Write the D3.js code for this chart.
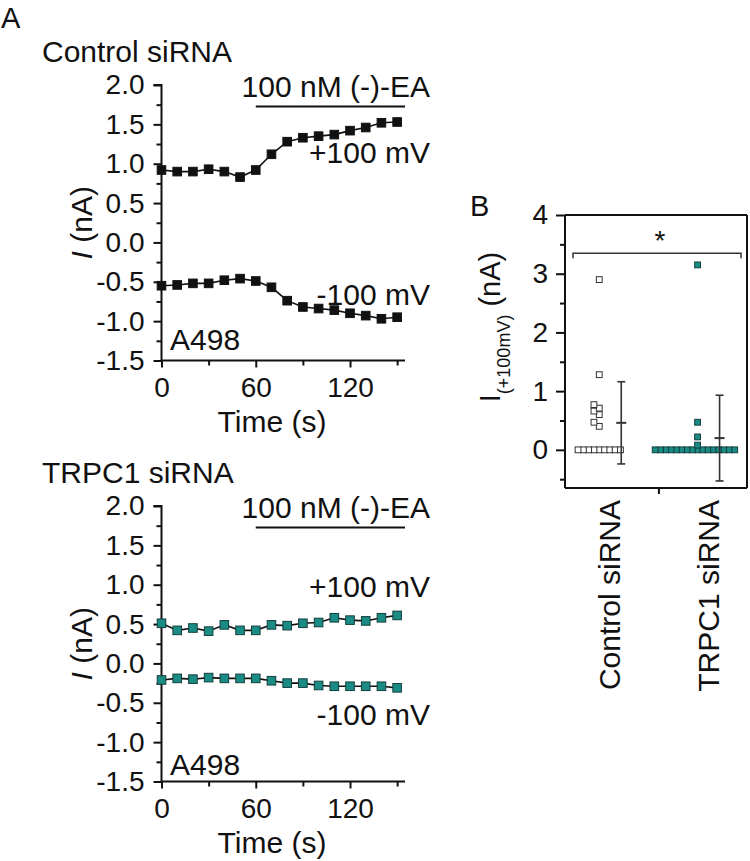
<!DOCTYPE html>
<html><head><meta charset="utf-8">
<script src="https://cdn.jsdelivr.net/npm/d3@7"></script>
<style>
body{margin:0;background:#fff;}
svg{font-family:"Liberation Sans",Arial,sans-serif;}
</style></head><body>
<svg id="c" width="750" height="861"></svg>
<script>
// ---------- data ----------
const time = [0,10,20,30,40,50,60,70,80,90,100,110,120,130,140,150];
const ctrlPlus  = [0.92,0.90,0.90,0.93,0.90,0.83,0.92,1.12,1.28,1.33,1.35,1.37,1.42,1.46,1.52,1.53];
const ctrlMinus = [-0.55,-0.54,-0.52,-0.52,-0.48,-0.46,-0.49,-0.57,-0.74,-0.82,-0.84,-0.86,-0.90,-0.93,-0.97,-0.95];
const trpcPlus  = [0.51,0.42,0.45,0.41,0.49,0.42,0.42,0.49,0.48,0.51,0.52,0.58,0.55,0.54,0.58,0.61];
const trpcMinus = [-0.21,-0.19,-0.20,-0.18,-0.19,-0.19,-0.19,-0.22,-0.25,-0.25,-0.28,-0.29,-0.29,-0.29,-0.29,-0.31];
const yTicksA = [-1.5,-1.0,-0.5,0.0,0.5,1.0,1.5,2.0];
const yMinorA = [-1.25,-0.75,-0.25,0.25,0.75,1.25,1.75];
const xTicksA = [0,60,120];
const xMinorA = [30,90,150];
const drugStart = 60;
const panelTitles = ["Control siRNA","TRPC1 siRNA"];

const groupsB = ["Control siRNA","TRPC1 siRNA"];
const ctrlB = [0,0,0,0,0,0,0,0,0,0.40,0.47,0.60,0.66,0.71,0.77,1.28,2.90];
const trpcB = [0,0,0,0,0,0,0,0,0,0,0,0,0,0,0,0,0.08,0.22,0.47,3.15];
const meanB = [0.46,0.20];
const sdB   = [0.70,0.73];
const yTicksB = [0,1,2,3,4];
const yMinorB = [-0.5,0.5,1.5,2.5,3.5];

// ---------- drawing ----------
const svg = d3.select("#c");
const black = "#111";
const teal = "#1b8b86", tealEdge = "#123f3c";

function styleAxis(g, fs){
  g.selectAll("path,line").attr("stroke", black).attr("stroke-width", 2);
  g.selectAll("text").attr("font-size", fs).attr("fill", black).attr("font-family", '"Liberation Sans",Arial,sans-serif');
}

function panelA(dy, title, plus, minus, fill, edge, labels){
  const x = d3.scaleLinear().domain([0,155]).range([161.5,405]);
  const y = d3.scaleLinear().domain([-1.5,2.0]).range([360.5+dy,85+dy]);
  const g = svg.append("g");
  const gmy = g.append("g").attr("transform",`translate(${x(0)},0)`)
    .call(d3.axisLeft(y).tickValues(yMinorA).tickSize(5).tickFormat(""));
  gmy.select(".domain").remove(); styleAxis(gmy, 28);
  const gmx = g.append("g").attr("transform",`translate(0,${y(-1.5)})`)
    .call(d3.axisBottom(x).tickValues(xMinorA).tickSize(5).tickFormat(""));
  gmx.select(".domain").remove(); styleAxis(gmx, 28);
  const gy = g.append("g").attr("transform",`translate(${x(0)},0)`)
    .call(d3.axisLeft(y).tickValues(yTicksA).tickSize(8).tickPadding(9).tickFormat(d3.format(".1f")));
  gy.select(".domain").attr("d", `M-8,${y(2)}H0V${y(-1.5)}`);
  styleAxis(gy, 28);
  gy.selectAll("text").text(d => d3.format(".1f")(d).replace("−","-"));
  const gx = g.append("g").attr("transform",`translate(0,${y(-1.5)})`)
    .call(d3.axisBottom(x).tickValues(xTicksA).tickSize(7).tickPadding(10).tickFormat(d3.format("d")));
  gx.select(".domain").attr("d", `M${x(0)},0H${x(155)}`);
  styleAxis(gx, 28);

  g.append("text").attr("x",42).attr("y",62+dy).attr("font-size",30).attr("fill",black).text(title);
  const yl = g.append("text").attr("transform",`translate(92,${(y(2)+y(-1.5))/2}) rotate(-90)`)
    .attr("text-anchor","middle").attr("font-size",30).attr("fill",black);
  yl.append("tspan").attr("font-style","italic").text("I");
  yl.append("tspan").text(" (nA)");
  g.append("text").attr("x",272).attr("y",y(-1.5)+71).attr("text-anchor","middle")
    .attr("font-size",30).attr("fill",black).text("Time (s)");

  g.append("text").attr("x",430).attr("y",97+dy).attr("text-anchor","end")
    .attr("font-size",30).attr("fill",black).text("100 nM (-)-EA");
  g.append("line").attr("x1",x(drugStart)).attr("x2",x(155)).attr("y1",106.5+dy).attr("y2",106.5+dy)
    .attr("stroke",black).attr("stroke-width",2);

  const line = d3.line().x((d,i)=>x(time[i])).y(d=>y(d));
  [plus, minus].forEach(series=>{
    g.append("path").datum(series).attr("d",line).attr("fill","none").attr("stroke",black).attr("stroke-width",1.6);
    g.selectAll(null).data(series).enter().append("rect")
      .attr("x",(d,i)=>x(time[i])-4.3).attr("y",d=>y(d)-4.3).attr("width",8.6).attr("height",8.6)
      .attr("fill",fill).attr("stroke",edge).attr("stroke-width",1);
  });
  g.append("text").attr("x",430).attr("y",labels[0]+dy).attr("text-anchor","end").attr("font-size",30).attr("fill",black).text("+100 mV");
  g.append("text").attr("x",430).attr("y",labels[1]+dy).attr("text-anchor","end").attr("font-size",30).attr("fill",black).text("-100 mV");
  g.append("text").attr("x",170).attr("y",labels[2]+dy).attr("font-size",30).attr("fill",black).text("A498");
}

svg.append("text").attr("x",1).attr("y",28).attr("font-size",29).attr("fill",black).text("A");
panelA(0, panelTitles[0], ctrlPlus, ctrlMinus, black, black, [163,305,350]);
panelA(421, panelTitles[1], trpcPlus, trpcMinus, teal, tealEdge, [176,304,354]);

// ---------- panel B ----------
const xB = d3.scaleLinear().domain([0.55,2.35]).range([565,742]);
const yB = d3.scaleLinear().domain([-0.65,4]).range([488,215]);
const frameRight = 747;
const gB = svg.append("g");
svg.append("text").attr("x",470).attr("y",216).attr("font-size",29).attr("fill",black).text("B");

const gmyB = gB.append("g").attr("transform",`translate(${xB.range()[0]},0)`)
  .call(d3.axisLeft(yB).tickValues(yMinorB).tickSize(5).tickFormat(""));
gmyB.select(".domain").remove(); styleAxis(gmyB, 28);
const gyB = gB.append("g").attr("transform",`translate(${xB.range()[0]},0)`)
  .call(d3.axisLeft(yB).tickValues(yTicksB).tickSize(9).tickPadding(8).tickFormat(d3.format("d")));
styleAxis(gyB, 28);
gyB.select(".domain").attr("d",`M0,${yB.range()[1]}V${yB.range()[0]}`);
const gxB = gB.append("g").attr("transform",`translate(0,${yB.range()[0]})`)
  .call(d3.axisBottom(xB).tickValues([1.5]).tickSize(6).tickFormat(""));
gxB.select(".domain").attr("d",`M${xB.range()[0]},0H${frameRight}`);
styleAxis(gxB, 28);
gB.append("line").attr("x1",frameRight).attr("x2",frameRight).attr("y1",yB.range()[1]).attr("y2",yB.range()[0])
  .attr("stroke",black).attr("stroke-width",2);
gB.append("line").attr("x1",xB.range()[0]).attr("x2",frameRight).attr("y1",yB.range()[1]).attr("y2",yB.range()[1])
  .attr("stroke",black).attr("stroke-width",2);

const ylB = gB.append("text").attr("transform",`translate(500,327) rotate(-90)`)
  .attr("text-anchor","middle").attr("font-size",29).attr("fill",black);
ylB.append("tspan").text("I");
ylB.append("tspan").attr("font-size",18).attr("dy",10).text("(+100mV)");
ylB.append("tspan").attr("dy",-10).text(" (nA)");

groupsB.forEach((name,i)=>{
  gB.append("text").attr("transform",`translate(${xB(i+1)+11},${yB.range()[0]+12}) rotate(-90)`)
    .attr("text-anchor","end").attr("font-size",30).attr("fill",black).text(name);
});

function swarm(vals, cx, s, ty){
  const placed = [];
  const sorted = vals.slice().sort((a,b)=>a-b);
  sorted.forEach(v=>{
    const py = yB(v);
    let k = 0, off = 0;
    for(;;){
      off = (k===0)?0:((k%2===1)?-Math.ceil(k/2)*s:Math.ceil(k/2)*s);
      const hit = placed.some(p=>Math.abs(p.x-(cx+off))<s-0.1 && Math.abs(p.y-py)<ty);
      if(!hit) break;
      k++;
    }
    placed.push({x:cx+off,y:py,v});
  });
  return placed;
}
const sets = [ctrlB, trpcB];
const fills = ["#fff", teal], edges = ["#333", tealEdge];
sets.forEach((vals,i)=>{
  const pts = swarm(vals, xB(i+1)-10, 5.3, 4.2);
  gB.selectAll(null).data(pts).enter().append("rect")
    .attr("x",d=>d.x-2.9).attr("y",d=>d.y-2.9).attr("width",5.8).attr("height",5.8)
    .attr("fill",fills[i]).attr("stroke",edges[i]).attr("stroke-width",1);
  const mx = xB(i+1)+12;
  const top = yB(meanB[i]+sdB[i]), bot = yB(meanB[i]-sdB[i]);
  const eg = gB.append("g").attr("stroke","#333").attr("stroke-width",1.6);
  eg.append("line").attr("x1",mx).attr("x2",mx).attr("y1",top).attr("y2",bot);
  eg.append("line").attr("x1",mx-4).attr("x2",mx+4).attr("y1",top).attr("y2",top);
  eg.append("line").attr("x1",mx-4).attr("x2",mx+4).attr("y1",bot).attr("y2",bot);
  eg.append("line").attr("x1",mx-5).attr("x2",mx+5).attr("y1",yB(meanB[i])).attr("y2",yB(meanB[i])).attr("stroke-width",2);
});

const by = yB(3.35);
gB.append("path").attr("d",`M${573},${by+5}V${by}H${741}V${by+5}`).attr("fill","none").attr("stroke","#333").attr("stroke-width",1.5);
gB.append("text").attr("x",660).attr("y",by-3).attr("text-anchor","middle").attr("font-size",28).attr("fill",black).text("*");
</script>
</body></html>
